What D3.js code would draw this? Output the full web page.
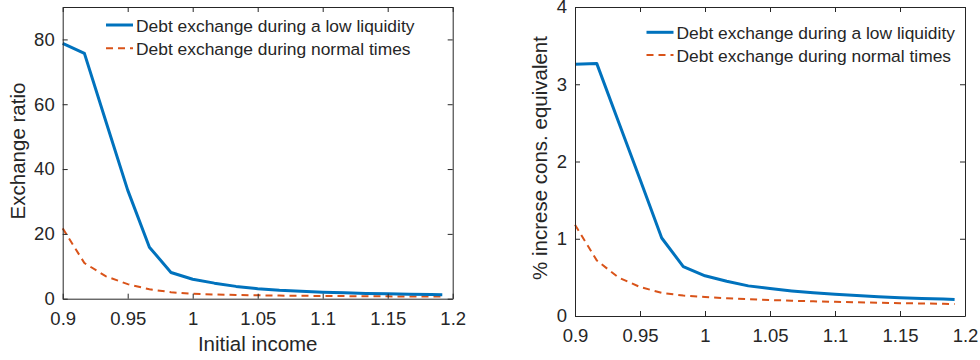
<!DOCTYPE html>
<html>
<head>
<meta charset="utf-8">
<script src="https://cdn.jsdelivr.net/npm/d3@7"></script>
<style>
body { margin: 0; background: #fff; }
text { font-family: "Liberation Sans", Arial, sans-serif; fill: #262626; }
</style>
</head>
<body>
<script>
// x grid (initial income)
var income = [0.9, 0.9167, 0.9333, 0.95, 0.9667, 0.9833, 1.0, 1.0167, 1.0333, 1.05,
              1.0667, 1.0833, 1.1, 1.1167, 1.1333, 1.15, 1.1667, 1.1833, 1.192];

// left panel: exchange ratio
var ratioLow = [78.8, 75.7, 54.6, 33.5, 15.9, 8.1, 6.0, 4.8, 3.8, 3.1,
                2.6, 2.3, 2.0, 1.8, 1.6, 1.5, 1.4, 1.3, 1.25];
var ratioNormal = [21.7, 11.0, 6.9, 4.5, 2.9, 2.0, 1.5, 1.3, 1.15, 1.05,
                   0.95, 0.9, 0.85, 0.8, 0.75, 0.72, 0.7, 0.68, 0.66];

// right panel: % increase cons. equivalent
var consLow = [3.26, 3.27, 2.52, 1.77, 1.01, 0.64, 0.52, 0.45, 0.39, 0.355,
               0.325, 0.30, 0.28, 0.265, 0.25, 0.237, 0.228, 0.22, 0.215];
var consNormal = [1.18, 0.72, 0.50, 0.375, 0.30, 0.265, 0.245, 0.23, 0.218, 0.207,
                  0.198, 0.19, 0.183, 0.177, 0.171, 0.166, 0.162, 0.158, 0.155];

var xTicks = [0.9, 0.95, 1, 1.05, 1.1, 1.15, 1.2];
var xTickLabels = ['0.9', '0.95', '1', '1.05', '1.1', '1.15', '1.2'];
var ratioTicks = [0, 20, 40, 60, 80];
var ratioTickLabels = ['0', '20', '40', '60', '80'];
var consTicks = [0, 1, 2, 3, 4];
var consTickLabels = ['0', '1', '2', '3', '4'];
var legendNames = ['Debt exchange during a low liquidity', 'Debt exchange during normal times'];

var blue = '#0072BD';
var red = '#D95319';
var axisColor = '#262626';

var svg = d3.select('body').append('svg')
	.attr('width', 980)
	.attr('height', 360);

function panel(opts) {
	var x = d3.scaleLinear().domain([0.9, 1.2]).range([opts.left, opts.right]);
	var y = d3.scaleLinear().domain(opts.yDomain).range([opts.bottom, opts.top]);

	var g = svg.append('g');

	var line = d3.line()
		.x(function(d, i) { return x(income[i]); })
		.y(function(d) { return y(d); });

	g.append('path')
		.datum(opts.normal)
		.attr('d', line)
		.attr('fill', 'none')
		.attr('stroke', red)
		.attr('stroke-width', 2)
		.attr('stroke-dasharray', '7,5');

	g.append('path')
		.datum(opts.low)
		.attr('d', line)
		.attr('fill', 'none')
		.attr('stroke', blue)
		.attr('stroke-width', 3)
		.attr('stroke-linejoin', 'round');

	// axes, MATLAB style: ticks inside, box on
	var xfmt = function(d) { return xTickLabels[xTicks.indexOf(d)]; };
	var yfmt = function(d) { return opts.yTickLabels[opts.yTicks.indexOf(d)]; };
	var bottom = g.append('g')
		.attr('transform', 'translate(0,' + opts.bottom + ')')
		.call(d3.axisBottom(x).tickValues(xTicks).tickFormat(xfmt).tickSizeInner(-5).tickSizeOuter(0).tickPadding(13));
	var top = g.append('g')
		.attr('transform', 'translate(0,' + opts.top + ')')
		.call(d3.axisTop(x).tickValues(xTicks).tickFormat('').tickSizeInner(-5).tickSizeOuter(0));
	var leftAx = g.append('g')
		.attr('transform', 'translate(' + opts.left + ',0)')
		.call(d3.axisLeft(y).tickValues(opts.yTicks).tickFormat(yfmt).tickSizeInner(-5).tickSizeOuter(0).tickPadding(8));
	var rightAx = g.append('g')
		.attr('transform', 'translate(' + opts.right + ',0)')
		.call(d3.axisRight(y).tickValues(opts.yTicks).tickFormat('').tickSizeInner(-5).tickSizeOuter(0));

	[bottom, top, leftAx, rightAx].forEach(function(a) {
		a.select('.domain').attr('stroke', axisColor);
		a.selectAll('.tick line').attr('stroke', axisColor);
		a.selectAll('text').attr('font-size', 18.5).attr('fill', axisColor)
			.style('font-family', '"Liberation Sans", Arial, sans-serif');
	});

	// legend
	var lg = g.append('g');
	[[blue, 3, null], [red, 2, '7,5']].forEach(function(s, i) {
		var ly = opts.legendY + i * opts.legendGap;
		lg.append('line')
			.attr('x1', opts.legendX).attr('x2', opts.legendX + 27)
			.attr('y1', ly).attr('y2', ly)
			.attr('stroke', s[0])
			.attr('stroke-width', s[1])
			.attr('stroke-dasharray', s[2]);
		lg.append('text')
			.attr('x', opts.legendX + 30)
			.attr('y', ly + 6.5)
			.attr('font-size', 17.4)
			.text(legendNames[i]);
	});

	// y label
	g.append('text')
		.attr('transform', 'translate(' + opts.yLabelX + ',' + opts.yLabelY + ') rotate(-90)')
		.attr('text-anchor', 'middle')
		.attr('font-size', 20.5)
		.text(opts.yLabel);

	if (opts.xLabel) {
		g.append('text')
			.attr('x', (opts.left + opts.right) / 2)
			.attr('y', 351)
			.attr('text-anchor', 'middle')
			.attr('font-size', 20.5)
			.text(opts.xLabel);
	}
}

panel({
	left: 62.7, right: 452.7, top: 7, bottom: 298.7,
	yDomain: [0, 90], yTicks: ratioTicks, yTickLabels: ratioTickLabels,
	low: ratioLow, normal: ratioNormal,
	legendX: 106, legendY: 25, legendGap: 23.3,
	yLabel: 'Exchange ratio', yLabelX: 25, yLabelY: 151,
	xLabel: 'Initial income'
});

panel({
	left: 575, right: 965, top: 7, bottom: 316,
	yDomain: [0, 4], yTicks: consTicks, yTickLabels: consTickLabels,
	low: consLow, normal: consNormal,
	legendX: 646.5, legendY: 32.3, legendGap: 22.7,
	yLabel: '% increse cons. equivalent', yLabelX: 547, yLabelY: 158
});
</script>
</body>
</html>
